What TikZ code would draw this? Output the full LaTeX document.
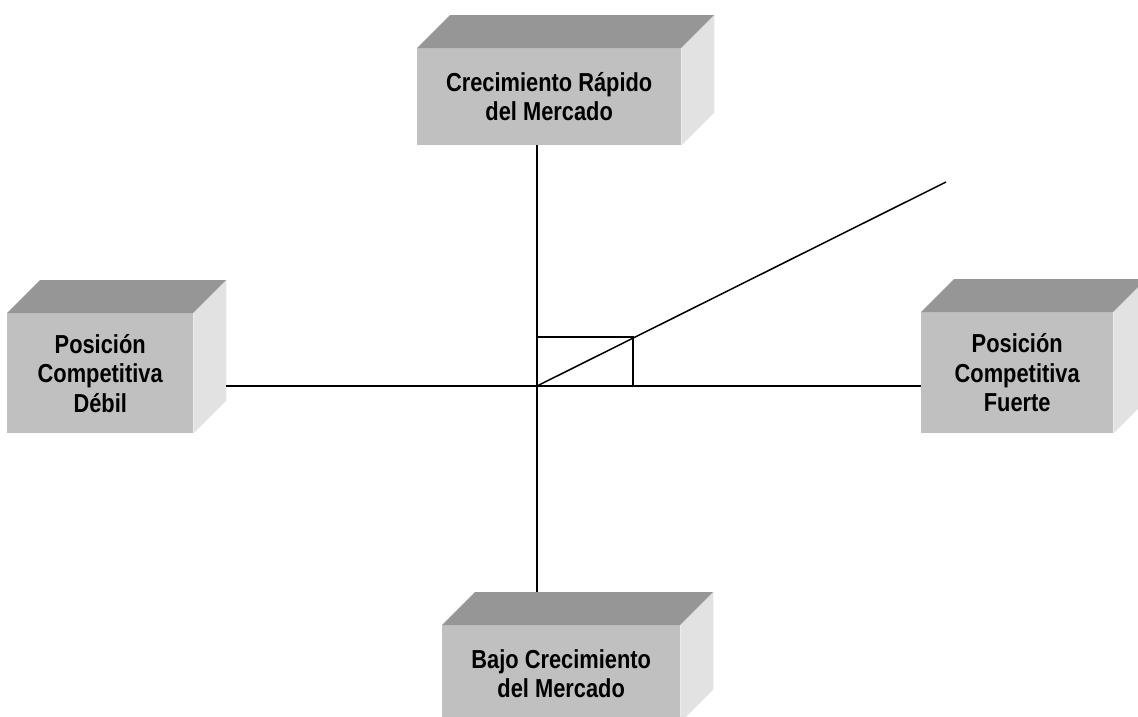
\documentclass[tikz,border=0pt]{standalone}
\usepackage{fontspec}
\setmainfont{Liberation Sans}[FakeStretch=0.84]
\usetikzlibrary{calc}
\definecolor{frontgray}{HTML}{C0C0C0}
\definecolor{topgray}{HTML}{969696}
\definecolor{sidegray}{HTML}{E2E2E2}
\tikzset{
  face/.style={fill=frontgray, draw=none, inner sep=0pt, align=center,
    font=\fontsize{26}{29.5}\selectfont\bfseries, anchor=north west},
  axis/.style={draw=black, line width=1.5pt},
}
% extruded box: front face node plus top and right-hand faces
\newcommand{\boxcube}[6]{%
  \node[face, minimum width=#4pt, minimum height=#5pt] (#1) at (#2,#3) {#6};
  \fill[topgray] (#1.north west) -- ++(33,-33) -- ([shift={(33pt,33pt)}]#1.north east) -- (#1.north east) -- cycle;
  \fill[sidegray] (#1.north east) -- ++(33,-33) -- ([shift={(33pt,33pt)}]#1.south east) -- (#1.south east) -- cycle;
}
\begin{document}
\begin{tikzpicture}[x=1pt, y=-1pt]
\useasboundingbox (0,0) rectangle (1138,716);

\boxcube{T}{417}{48}{264}{97}{Crecimiento Rápido\\del Mercado}
\boxcube{L}{7}{313}{186}{120}{Posición\\Competitiva\\Débil}
\boxcube{R}{921}{312}{192}{121}{Posición\\Competitiva\\Fuerte}
\boxcube{B}{442}{625}{238}{97}{Bajo Crecimiento\\del Mercado}

\coordinate (O) at (537,386);
\coordinate (D) at (946,182);
\coordinate (P) at (633,337);
\coordinate (Lback) at ([xshift=33pt]L.east);
\coordinate (Bback) at ([yshift=33pt]B.north);

\draw[axis] (T.south -| O) -- (Bback -| O);
\draw[axis] (Lback |- O) -- (R.west |- O);
\draw[axis] (O) -- (D);
\draw[axis] (O |- P) -- (P) -- (P |- O);
\end{tikzpicture}
\end{document}
